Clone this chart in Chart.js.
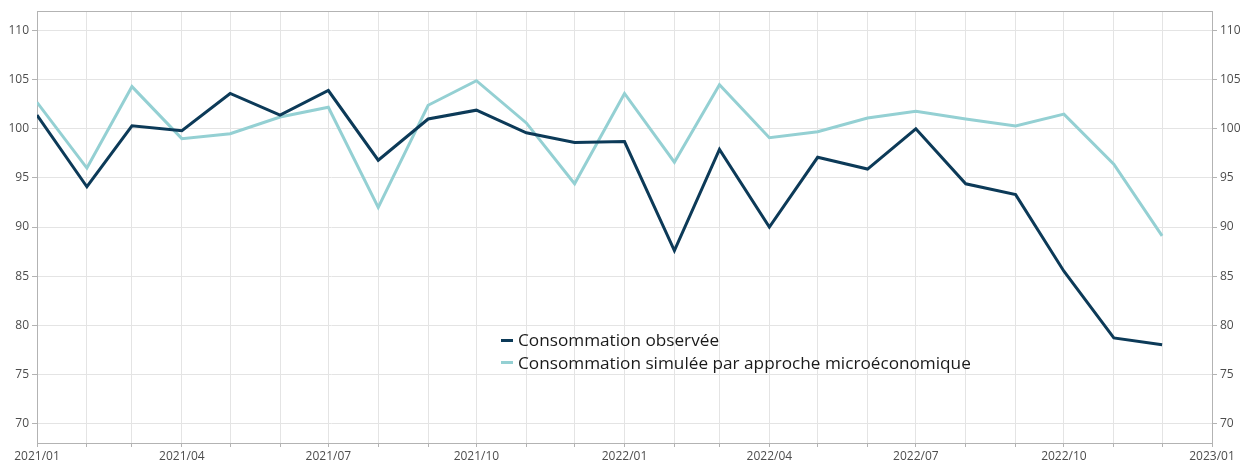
<!DOCTYPE html>
<html>
<head>
<meta charset="utf-8">
<script src="https://cdn.jsdelivr.net/npm/chart.js@4.4.1/dist/chart.umd.min.js"></script>
<style>
  html, body { margin: 0; padding: 0; background: #fff; }
  #wrap { position: relative; width: 1249px; height: 461px; }
  #legend {
    position: absolute; left: 501px; top: 329px;
    font-family: 'Open Sans', sans-serif; font-size: 17.2px; color: #1a1a1a;
    line-height: 22.5px;
  }
  #legend .item { display: flex; align-items: center; white-space: nowrap; }
  #legend .swatch { display: inline-block; width: 12px; height: 3px; margin-right: 5px; }
</style>
</head>
<body>
<div id="wrap">
  <canvas id="chart" width="1249" height="461"></canvas>
  <div id="legend"></div>
</div>
<script>
// monthly points, first day of each month
const months = [
  '2021/01', '2021/02', '2021/03', '2021/04', '2021/05', '2021/06',
  '2021/07', '2021/08', '2021/09', '2021/10', '2021/11', '2021/12',
  '2022/01', '2022/02', '2022/03', '2022/04', '2022/05', '2022/06',
  '2022/07', '2022/08', '2022/09', '2022/10', '2022/11', '2022/12'
];
const observed = [
  101.4, 94.1, 100.3, 99.8, 103.6, 101.4, 103.9, 96.8, 101.0, 101.9, 99.6, 98.6,
  98.7, 87.6, 97.9, 90.0, 97.1, 95.9, 100.0, 94.4, 93.3, 85.5, 78.7, 78.0
];
const simulated = [
  102.7, 96.0, 104.3, 99.0, 99.5, 101.2, 102.2, 92.0, 102.4, 104.9, 100.6, 94.4,
  103.6, 96.6, 104.5, 99.1, 99.7, 101.1, 101.8, 101.0, 100.3, 101.5, 96.4, 89.1
];
const seriesNames = [
  'Consommation observée',
  'Consommation simulée par approche microéconomique'
];
const seriesColors = ['#0c3a58', '#94d0d3'];

// x ticks (one per month, label every quarter) and y ticks
const xTickMonths = months.concat(['2023/01']);
const yTicks = [70, 75, 80, 85, 90, 95, 100, 105, 110];

const start = Date.UTC(2021, 0, 1);
function dayOf(m) {
  const [y, mo] = m.split('/').map(Number);
  return (Date.UTC(y, mo - 1, 1) - start) / 86400000;
}

const gridColor = '#e4e4e4';
const axisColor = '#b3b3b3';
const tickFont = { family: "'Open Sans', sans-serif", size: 12 };
const tickColor = '#4d4d4d';

const yAxis = (position) => ({
  position,
  min: 68,
  max: 112,
  afterBuildTicks: s => { s.ticks = yTicks.map(v => ({ value: v })); },
  afterFit: s => { s.width = 37; },
  ticks: { color: tickColor, font: tickFont, padding: 3 },
  grid: {
    color: gridColor,
    tickColor: axisColor,
    tickLength: 5,
    drawOnChartArea: position === 'left'
  },
  border: { color: axisColor }
});

new Chart(document.getElementById('chart'), {
  type: 'line',
  data: {
    datasets: [
      {
        label: seriesNames[0],
        data: months.map((m, i) => ({ x: dayOf(m), y: observed[i] })),
        borderColor: seriesColors[0],
        borderWidth: 3,
        pointRadius: 0,
        tension: 0,
        yAxisID: 'y'
      },
      {
        label: seriesNames[1],
        data: months.map((m, i) => ({ x: dayOf(m), y: simulated[i] })),
        borderColor: seriesColors[1],
        borderWidth: 3,
        pointRadius: 0,
        tension: 0,
        yAxisID: 'y'
      }
    ]
  },
  options: {
    responsive: false,
    animation: false,
    layout: { padding: 0 },
    plugins: {
      legend: { display: false },
      tooltip: { enabled: false }
    },
    scales: {
      x: {
        type: 'linear',
        position: 'bottom',
        min: 0,
        max: dayOf('2023/01'),
        afterBuildTicks: s => { s.ticks = xTickMonths.map(m => ({ value: dayOf(m) })); },
        afterFit: s => { s.height = 18; },
        ticks: {
          autoSkip: false,
          maxRotation: 0,
          color: tickColor,
          font: tickFont,
          padding: 2,
          callback: (v, i) => (i % 3 === 0 ? xTickMonths[i] : '')
        },
        grid: { color: gridColor, tickColor: axisColor, tickLength: 4 },
        border: { color: axisColor }
      },
      xTop: {
        type: 'linear',
        position: 'top',
        afterFit: s => { s.height = 11; },
        ticks: { display: false },
        grid: { display: false },
        border: { color: axisColor }
      },
      y: yAxis('left'),
      y2: yAxis('right')
    }
  }
});

const legend = document.getElementById('legend');
seriesNames.forEach((name, i) => {
  const row = document.createElement('div');
  row.className = 'item';
  const sw = document.createElement('span');
  sw.className = 'swatch';
  sw.style.background = seriesColors[i];
  row.appendChild(sw);
  row.appendChild(document.createTextNode(name));
  legend.appendChild(row);
});
</script>
</body>
</html>
